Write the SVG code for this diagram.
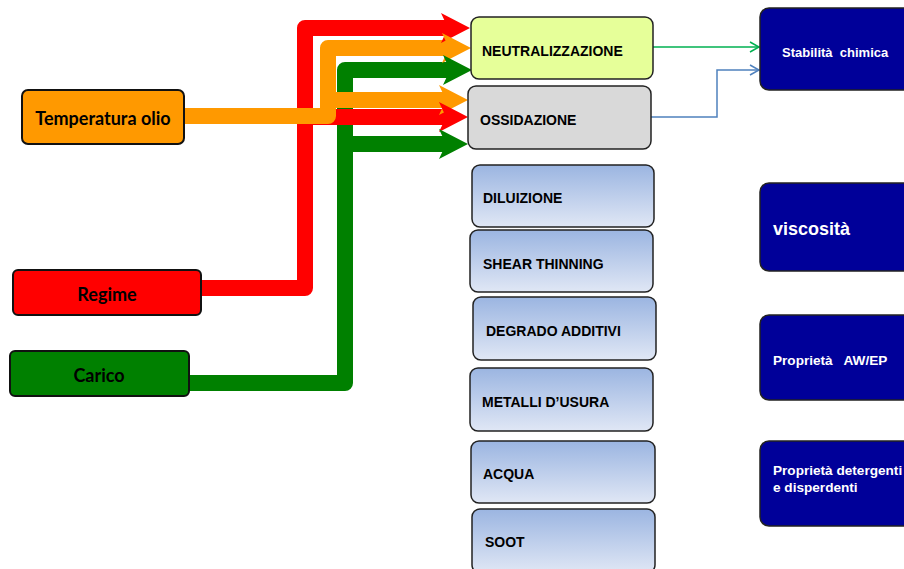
<svg xmlns="http://www.w3.org/2000/svg" width="904" height="569" viewBox="0 0 904 569">
  <style>
    .src text { font-family: Lato, "Open Sans", sans-serif; font-weight: bold; font-size: 18px; fill: #000; text-anchor: middle; dominant-baseline: central; }
    .src rect { stroke: #111; stroke-width: 2; }
    .mid rect { stroke: #222; stroke-width: 1.5; }
    .mid text { font-family: "Liberation Sans", Arial, sans-serif; font-weight: bold; font-size: 14px; fill: #000; dominant-baseline: central; }
    .out rect { fill: #000099; stroke: #222; stroke-width: 1.5; }
    .out text { font-family: "Liberation Sans", Arial, sans-serif; font-weight: bold; font-size: 13.6px; fill: #fff; dominant-baseline: central; }
    .fat { fill: none; stroke-width: 16; stroke-linejoin: round; }
    .thin { fill: none; stroke-width: 1.5; }
    .red { stroke: #FF0000; }
    .orange { stroke: #FF9900; }
    .green { stroke: #008000; }
  </style>
  <defs>
    <linearGradient id="blueFill" x1="0" y1="0" x2="0" y2="1">
      <stop offset="0" stop-color="#9BB5E1"/>
      <stop offset="1" stop-color="#E0E7F5"/>
    </linearGradient>
    <!-- broad notched arrowhead, tip at origin -->
    <path id="head" d="M0,0 L-29,-15 L-22,0 L-29,15 Z"/>
    <marker id="openGreen" markerUnits="userSpaceOnUse" markerWidth="12" markerHeight="12" viewBox="-10 -6 12 12" refX="0" refY="0" orient="auto">
      <path d="M-9,-5 L0,0 L-9,5" fill="none" stroke="#00B050" stroke-width="1.5"/>
    </marker>
    <marker id="openBlue" markerUnits="userSpaceOnUse" markerWidth="12" markerHeight="12" viewBox="-10 -6 12 12" refX="0" refY="0" orient="auto">
      <path d="M-9,-5 L0,0 L-9,5" fill="none" stroke="#4F81BD" stroke-width="1.5"/>
    </marker>
  </defs>

  <rect width="904" height="569" fill="#fff"/>

  <!-- connectors -->
  <g id="connectors">
    <!-- Carico -->
    <path class="fat green" d="M189,383 H345 V70 H450"/>
    <path class="fat green" d="M345,144 H446"/>
    <!-- Regime -->
    <path class="fat red" d="M201,288 H305 V28 H448"/>
    <path class="fat red" d="M305,117 H446"/>
    <!-- Temperatura olio -->
    <path class="fat orange" d="M184,116 H328 V48 H449"/>
    <path class="fat orange" d="M328,100 H446"/>
    <!-- arrowheads -->
    <use href="#head" x="470" y="28" fill="#FF0000"/>
    <use href="#head" x="471" y="48" fill="#FF9900"/>
    <use href="#head" x="472" y="70" fill="#008000"/>
    <use href="#head" x="468" y="100" fill="#FF9900"/>
    <use href="#head" x="468" y="117" fill="#FF0000"/>
    <use href="#head" x="468" y="144" fill="#008000"/>
    <!-- effects -->
    <path class="thin" stroke="#00B050" d="M653,47 H759" marker-end="url(#openGreen)"/>
    <path class="thin" stroke="#4F81BD" d="M651,117 H717 V70 H759" marker-end="url(#openBlue)"/>
  </g>

  <!-- factors -->
  <g id="temperatura" class="src">
    <rect x="22" y="90" width="162" height="54" rx="6" fill="#FF9900"/>
    <text x="103" y="118">Temperatura olio</text>
  </g>
  <g id="regime" class="src">
    <rect x="13" y="270" width="188" height="45" rx="5" fill="#FF0000"/>
    <text x="107" y="294">Regime</text>
  </g>
  <g id="carico" class="src">
    <rect x="10" y="351" width="179" height="45" rx="5" fill="#008000"/>
    <text x="99" y="375">Carico</text>
  </g>

  <!-- mechanisms -->
  <g id="neutralizzazione" class="mid">
    <rect x="471" y="17" width="182" height="62" rx="8" fill="#E6FF99"/>
    <text x="482" y="51">NEUTRALIZZAZIONE</text>
  </g>
  <g id="ossidazione" class="mid">
    <rect x="468" y="86" width="183" height="63" rx="8" fill="#D9D9D9"/>
    <text x="480" y="120">OSSIDAZIONE</text>
  </g>
  <g id="diluizione" class="mid">
    <rect x="472" y="165" width="182" height="62" rx="8" fill="url(#blueFill)"/>
    <text x="483" y="198">DILUIZIONE</text>
  </g>
  <g id="shear" class="mid">
    <rect x="470" y="230" width="183" height="62" rx="8" fill="url(#blueFill)"/>
    <text x="483" y="264">SHEAR THINNING</text>
  </g>
  <g id="degrado" class="mid">
    <rect x="473" y="297" width="183" height="63" rx="8" fill="url(#blueFill)"/>
    <text x="486" y="331">DEGRADO ADDITIVI</text>
  </g>
  <g id="metalli" class="mid">
    <rect x="470" y="368" width="183" height="63" rx="8" fill="url(#blueFill)"/>
    <text x="482" y="402">METALLI D’USURA</text>
  </g>
  <g id="acqua" class="mid">
    <rect x="471" y="441" width="184" height="62" rx="8" fill="url(#blueFill)"/>
    <text x="483" y="474">ACQUA</text>
  </g>
  <g id="soot" class="mid">
    <rect x="472" y="509" width="183" height="64" rx="8" fill="url(#blueFill)"/>
    <text x="485" y="542">SOOT</text>
  </g>

  <!-- properties -->
  <g id="stabilita" class="out">
    <rect x="760" y="8" width="160" height="82" rx="9"/>
    <text x="782" y="52" style="font-size:13px" xml:space="preserve">Stabilità  chimica</text>
  </g>
  <g id="viscosita" class="out">
    <rect x="760" y="183" width="160" height="88" rx="9"/>
    <text x="773" y="229" style="font-size:18px">viscosità</text>
  </g>
  <g id="awep" class="out">
    <rect x="760" y="315" width="160" height="85" rx="9"/>
    <text x="773" y="360" xml:space="preserve">Proprietà   AW/EP</text>
  </g>
  <g id="detergenti" class="out">
    <rect x="760" y="441" width="160" height="85" rx="9"/>
    <text x="773" y="470">Proprietà detergenti</text>
    <text x="773" y="487">e disperdenti</text>
  </g>
</svg>
